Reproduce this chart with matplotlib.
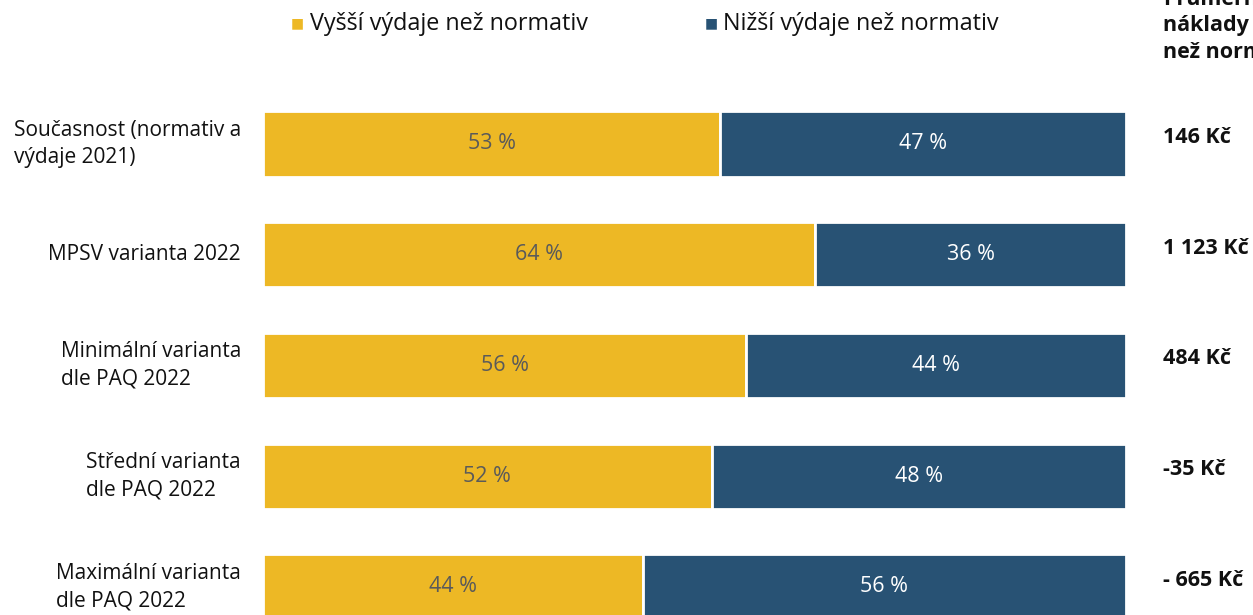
import matplotlib
matplotlib.use("Agg")
import matplotlib.pyplot as plt

categories = ["Současnost (normativ a\nvýdaje 2021)", "MPSV varianta 2022",
              "Minimální varianta\ndle PAQ 2022", "Střední varianta\ndle PAQ 2022",
              "Maximální varianta\ndle PAQ 2022"]
higher = [53, 64, 56, 52, 44]
lower = [47, 36, 44, 48, 56]
avg_cost = ["146 Kč", "1 123 Kč", "484 Kč", "-35 Kč", "- 665 Kč"]
legend_labels = ["Vyšší výdaje než normativ", "Nižší výdaje než normativ"]
header = "Průměrné\nnáklady vyšší\nnež normativ"

YELLOW = "#EDB825"
NAVY = "#285274"
FONT = ["Open Sans", "DejaVu Sans"]
plt.rcParams["font.family"] = FONT

W, H = 1253, 615
fig = plt.figure(figsize=(W / 100, H / 100), dpi=100)
ax = fig.add_axes([263 / W, 0, (1126 - 263) / W, 1])
y = list(range(len(categories)))
bh = 0.59
ax.barh(y, higher, height=bh, color=YELLOW, edgecolor="white", linewidth=2)
ax.barh(y, lower, left=higher, height=bh, color=NAVY, edgecolor="white", linewidth=2)
ax.set_xlim(0, 100)
ax.set_ylim(4.253, -1.300)
ax.axis("off")

for i in y:
    ax.text(higher[i] / 2, i, f"{higher[i]} %", ha="center", va="center",
            color="#5a5a5a", fontsize=15.5)
    ax.text(higher[i] + lower[i] / 2, i, f"{lower[i]} %", ha="center", va="center",
            color="white", fontsize=15.5)
    ax.text(-2.55, i, categories[i], ha="right", va="center", fontsize=15,
            color="#111111", linespacing=1.4, multialignment="left")
    ax.text(104.3, i - 0.06, avg_cost[i], ha="left", va="center", fontsize=15.5,
            fontweight="bold", color="#111111")

# legend
fig.text(297 / W, 1 - 24 / H, "■", color=YELLOW, fontsize=10, ha="center", va="center")
fig.text(310 / W, 1 - 24 / H, legend_labels[0], fontsize=16.8, ha="left", va="center",
         color="#111111")
fig.text(711 / W, 1 - 24 / H, "■", color=NAVY, fontsize=10, ha="center", va="center")
fig.text(723 / W, 1 - 24 / H, legend_labels[1], fontsize=16.8, ha="left", va="center",
         color="#111111")

fig.text(1163 / W, 1 - 26 / H, header, fontsize=15.5, fontweight="bold", ha="left",
         va="center", color="#111111", linespacing=1.35)

fig.savefig("out.png", dpi=100)
